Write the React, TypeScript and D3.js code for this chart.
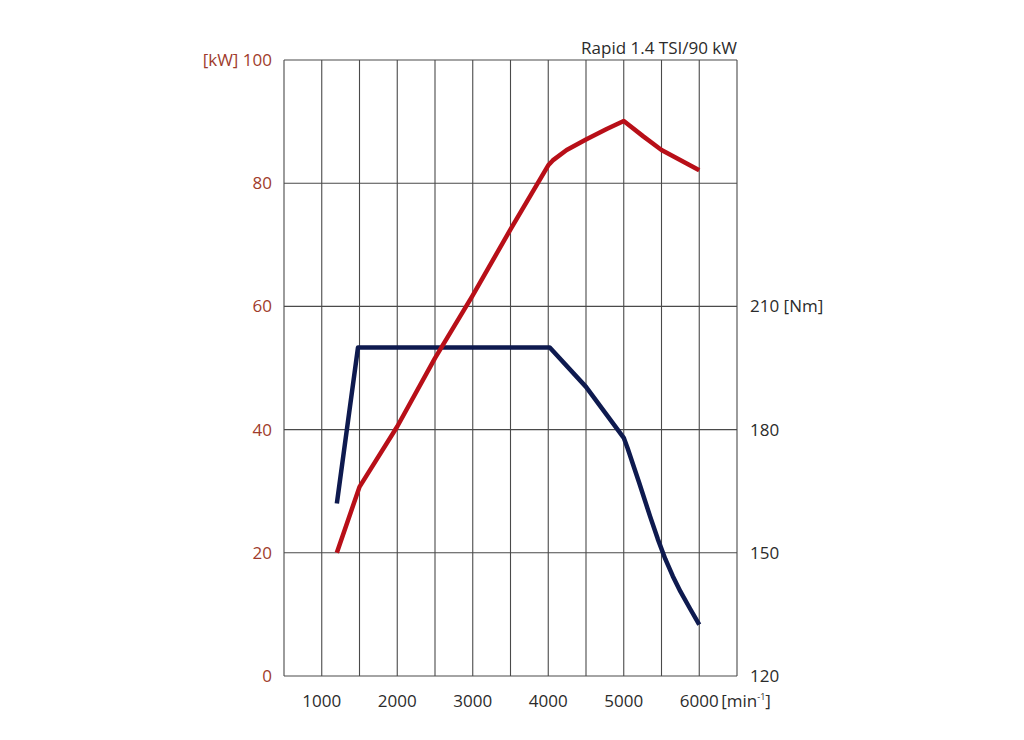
import React, { useEffect, useRef } from "react";
import * as d3 from "d3";

// engine speed [min^-1] vs power [kW] / torque [Nm]
const powerCurve: [number, number][] = [
  [1200, 20],
  [1500, 30.7],
  [2000, 40.5],
  [2500, 51.6],
  [3000, 61.8],
  [3500, 72.5],
  [4000, 82.9],
  [4060, 83.7],
  [4244, 85.4],
  [4500, 87.1],
  [4774, 88.8],
  [5000, 90.1],
  [5259, 87.6],
  [5500, 85.4],
  [6000, 82.1],
];

const torqueCurve: [number, number][] = [
  [1200, 162],
  [1480, 200],
  [4020, 200],
  [4500, 190.4],
  [5000, 178],
  [5050, 175.5],
  [5200, 167.3],
  [5350, 158.8],
  [5450, 153.4],
  [5550, 148.5],
  [5650, 144.3],
  [5750, 140.6],
  [5875, 136.5],
  [6000, 132.5],
];

const rpmTicks = [1000, 2000, 3000, 4000, 5000, 6000];
const rpmGrid = d3.range(500, 6501, 500);
const kwTicks = [0, 20, 40, 60, 80, 100];
const nmTicks = [120, 150, 180, 210];

const title = "Rapid 1.4 TSI/90 kW";
const kwUnit = "[kW]";
const nmUnit = "[Nm]";

const W = 1024;
const H = 740;
const FONT = "'Open Sans', 'Noto Sans', sans-serif";

export default function App() {
  const svgRef = useRef<SVGSVGElement>(null);

  useEffect(() => {
    if (!svgRef.current) return;
    const svg = d3.select(svgRef.current);
    svg.selectAll("*").remove();

    const x = d3.scaleLinear().domain([500, 6500]).range([284, 737]);
    const yKw = d3.scaleLinear().domain([0, 100]).range([676, 60]);
    const yNm = d3.scaleLinear().domain([120, 270]).range([676, 60]);

    const grid = svg.append("g").attr("stroke", "#4a4a4a").attr("stroke-width", 1.1);
    grid
      .selectAll("line.v")
      .data(rpmGrid)
      .join("line")
      .attr("class", "v")
      .attr("x1", (d) => x(d))
      .attr("x2", (d) => x(d))
      .attr("y1", yKw(100))
      .attr("y2", yKw(0));
    grid
      .selectAll("line.h")
      .data(kwTicks)
      .join("line")
      .attr("class", "h")
      .attr("x1", x(500))
      .attr("x2", x(6500))
      .attr("y1", (d) => yKw(d))
      .attr("y2", (d) => yKw(d));

    // left axis, kW
    const left = svg
      .append("g")
      .attr("font-family", FONT)
      .attr("font-size", 17)
      .attr("fill", "#a03c2c")
      .attr("text-anchor", "end");
    left
      .selectAll("text")
      .data(kwTicks)
      .join("text")
      .attr("x", 272)
      .attr("y", (d) => yKw(d) + 6)
      .text((d) => (d === 100 ? `${kwUnit} ${d}` : `${d}`));

    // right axis, Nm
    const right = svg
      .append("g")
      .attr("font-family", FONT)
      .attr("font-size", 17)
      .attr("fill", "#2b2b2b");
    right
      .selectAll("text")
      .data(nmTicks)
      .join("text")
      .attr("x", 750)
      .attr("y", (d) => yNm(d) + 6)
      .text((d) => (d === 210 ? `${d} ${nmUnit}` : `${d}`));

    // bottom axis, rpm
    const bottom = svg
      .append("g")
      .attr("font-family", FONT)
      .attr("font-size", 17)
      .attr("fill", "#2b2b2b")
      .attr("text-anchor", "middle");
    bottom
      .selectAll("text")
      .data(rpmTicks)
      .join("text")
      .attr("x", (d) => x(d))
      .attr("y", 707)
      .text((d) => d);
    const unit = bottom
      .append("text")
      .attr("text-anchor", "start")
      .attr("x", x(6000) + 22)
      .attr("y", 707);
    unit.append("tspan").text("[min");
    unit.append("tspan").attr("font-size", 9).attr("dy", -7).text("-1");
    unit.append("tspan").attr("dy", 7).text("]");

    svg
      .append("text")
      .attr("font-family", FONT)
      .attr("font-size", 17)
      .attr("fill", "#2b2b2b")
      .attr("text-anchor", "end")
      .attr("x", x(6500))
      .attr("y", 54)
      .text(title);

    const powerLine = d3
      .line<[number, number]>()
      .x((d) => x(d[0]))
      .y((d) => yKw(d[1]));
    const torqueLine = d3
      .line<[number, number]>()
      .x((d) => x(d[0]))
      .y((d) => yNm(d[1]));

    svg
      .append("path")
      .datum(torqueCurve)
      .attr("d", torqueLine)
      .attr("fill", "none")
      .attr("stroke", "#0e1a4f")
      .attr("stroke-width", 4.5)
      .attr("stroke-linejoin", "round");

    svg
      .append("path")
      .datum(powerCurve)
      .attr("d", powerLine)
      .attr("fill", "none")
      .attr("stroke", "#b80f18")
      .attr("stroke-width", 4.5)
      .attr("stroke-linejoin", "round");
  }, []);

  return (
    <div style={{ position: "absolute", left: 0, top: 0, background: "#fff" }}>
      <svg ref={svgRef} width={W} height={H} style={{ display: "block" }} />
    </div>
  );
}
